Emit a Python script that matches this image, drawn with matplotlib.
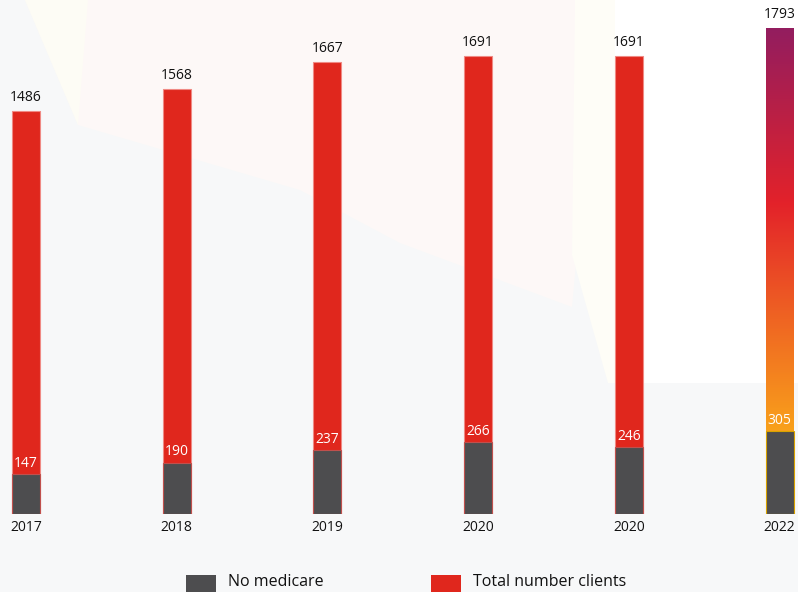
import matplotlib.pyplot as plt
import numpy as np
from matplotlib.colors import LinearSegmentedColormap
from matplotlib.patches import Polygon, Rectangle

plt.rcParams['font.family'] = ['Open Sans', 'DejaVu Sans']

# Data
years = ['2017', '2018', '2019', '2020', '2020', '2022']
total_clients = [1486, 1568, 1667, 1691, 1691, 1793]
no_medicare = [147, 190, 237, 266, 246, 305]

red = '#e0271d'
gray = '#4d4d4f'
bg = '#f7f8f9'

W, H = 798, 592
fig = plt.figure(figsize=(W / 100, H / 100), dpi=100, facecolor=bg)

# faint background shapes (figure pixel coords, origin top-left)
def px(points):
    return [(x / W, 1 - y / H) for x, y in points]

shapes = [
    (px([(615, 0), (798, 0), (798, 383), (615, 383)]), 'white'),
    (px([(25, 0), (600, 0), (572, 307), (400, 243), (300, 190), (78, 125)]), '#fdf8f7'),
    (px([(25, 0), (88, 0), (78, 125)]), '#fdfcf5'),
    (px([(575, 0), (615, 0), (615, 383), (608, 383), (572, 255)]), '#fefdf7'),
]
for pts, c in shapes:
    fig.patches.append(Polygon(pts, closed=True, transform=fig.transFigure,
                               facecolor=c, edgecolor='none', zorder=-10))

ax = fig.add_axes([0, 78 / H, 1, 514 / H])
ax.patch.set_alpha(0)
x = np.arange(len(years))
step = 150.7
width = 28 / step

ax.bar(x[:-1], total_clients[:-1], width=width, color=red,
       edgecolor='#f08a84', linewidth=0.8, zorder=2)
last = ax.bar(x[-1:], total_clients[-1:], width=width, color='none',
              edgecolor='none', zorder=2)[0]

# gradient fill for the 2022 bar
cmap = LinearSegmentedColormap.from_list('grad', [
    (0.0, '#fbaa18'), (0.17, '#f9a11b'), (0.38, '#f06a22'),
    (0.64, '#e3222a'), (1.0, '#931d5f')])
grad = np.linspace(0, 1, 256).reshape(-1, 1)
bx = last.get_x()
img = ax.imshow(grad, cmap=cmap, origin='lower', aspect='auto',
                extent=(bx, bx + width, 0, total_clients[-1]), zorder=2)
img.set_clip_path(last)
ax.set_xlim(-26 / step, (W - 26) / step)
ax.set_ylim(0, 514 / 0.271)

edge = ['#c0504d'] * (len(years) - 1) + ['#d9a300']
ax.bar(x, no_medicare, width=width, color=gray, edgecolor=edge,
       linewidth=0.8, zorder=3)

for i in range(len(years)):
    ax.text(x[i], total_clients[i] + 22, str(total_clients[i]), ha='center',
            va='bottom', fontsize=10, color='#111111')
    ax.text(x[i], no_medicare[i] + 12, str(no_medicare[i]), ha='center',
            va='bottom', fontsize=10, color='white', zorder=4)
    ax.text(x[i], -22, years[i], ha='center', va='top', fontsize=10,
            color='#111111')

ax.axis('off')

# legend
for (x0, label, c) in [(186, 'No medicare', gray),
                       (431, 'Total number clients', red)]:
    fig.patches.append(Rectangle((x0 / W, 0), 30 / W, 17 / H,
                                 transform=fig.transFigure, facecolor=c,
                                 edgecolor='none'))
    fig.text((x0 + 42) / W, 1 - 582 / H, label, ha='left', va='center',
             fontsize=11.5, color='#111111')

fig.savefig('out.png', dpi=100, facecolor=bg)
